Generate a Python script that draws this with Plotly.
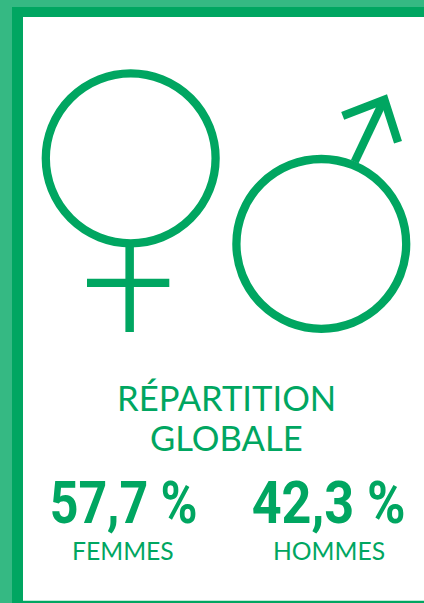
import plotly.graph_objects as go

GREEN = "#00a661"
LIGHT = "#35b983"
title_lines = ["RÉPARTITION", "GLOBALE"]
categories = ["FEMMES", "HOMMES"]
shares = ["57,7 %", "42,3 %"]
cat_x = [123, 328.5]

W, H = 424, 603
shapes = []

def rect(x0, y0, x1, y1, color):
    shapes.append(dict(type="rect", x0=x0, y0=y0, x1=x1, y1=y1, fillcolor=color, line_width=0, layer="below"))

# frame
rect(0, 0, W, 17, GREEN)
rect(0, 0, 23, H, GREEN)
rect(0, 0, W, 7, LIGHT)
rect(0, 0, 12, H, LIGHT)
rect(12, 7, 23, H, GREEN)
rect(23, 600.8, W, H, GREEN)

# female symbol
shapes.append(dict(type="circle", x0=45.8, y0=73.3, x1=215.6, y1=243.3, line=dict(color=GREEN, width=8.3)))
rect(125.4, 245, 133.9, 332, GREEN)
rect(87, 278.7, 169.3, 287, GREEN)

# male symbol
shapes.append(dict(type="circle", x0=236.4, y0=159, x1=406.2, y1=328.8, line=dict(color=GREEN, width=8.3)))
shapes.append(dict(type="path", path="M 354.7 161.7 L 383 102", line=dict(color=GREEN, width=8.3)))
shapes.append(dict(type="path", path="M 342.7 115.8 L 384.4 99.8 L 398 142.3", line=dict(color=GREEN, width=8.3), fillcolor="rgba(0,0,0,0)"))

annotations = []
def text(x, y, s, size, family, bold=False):
    annotations.append(dict(x=x, y=y, text=f"<b>{s}</b>" if bold else s, showarrow=False,
                            xanchor="center", yanchor="middle",
                            font=dict(family=family, size=size, color=GREEN)))

for y, line in zip([397, 437], title_lines):
    text(226, y, line, 34.6, "Lato")
for x, share, cat in zip(cat_x, shares, categories):
    text(x, 502, share, 60, "Roboto", True)
    text(x, 550, cat, 24.7, "Lato")

fig = go.Figure()
fig.update_layout(
    width=W, height=H, margin=dict(l=0, r=0, t=0, b=0),
    paper_bgcolor="white", plot_bgcolor="white", showlegend=False,
    xaxis=dict(range=[0, W], visible=False, fixedrange=True),
    yaxis=dict(range=[H, 0], visible=False, fixedrange=True),
    shapes=shapes, annotations=annotations,
)
# The reference figures use a condensed face: squeeze the share labels horizontally.
squeeze = """
document.body.style.margin='0';
document.documentElement.style.overflow='hidden';
function squeeze(){
  document.querySelectorAll('.annotation-text-g text').forEach(function(t){
    if(!/%/.test(t.textContent)) return;
    var b=t.getBBox(), cx=b.x+b.width/2, k=(/^4/.test(t.textContent)?154:148)/b.width;
    t.setAttribute('transform','translate('+cx+' 0) scale('+k+' 1) translate('+(-cx)+' 0)');
  });
}
document.fonts.ready.then(squeeze);
"""
fig.write_html("out.html", config={"displayModeBar": False}, post_script=squeeze)
